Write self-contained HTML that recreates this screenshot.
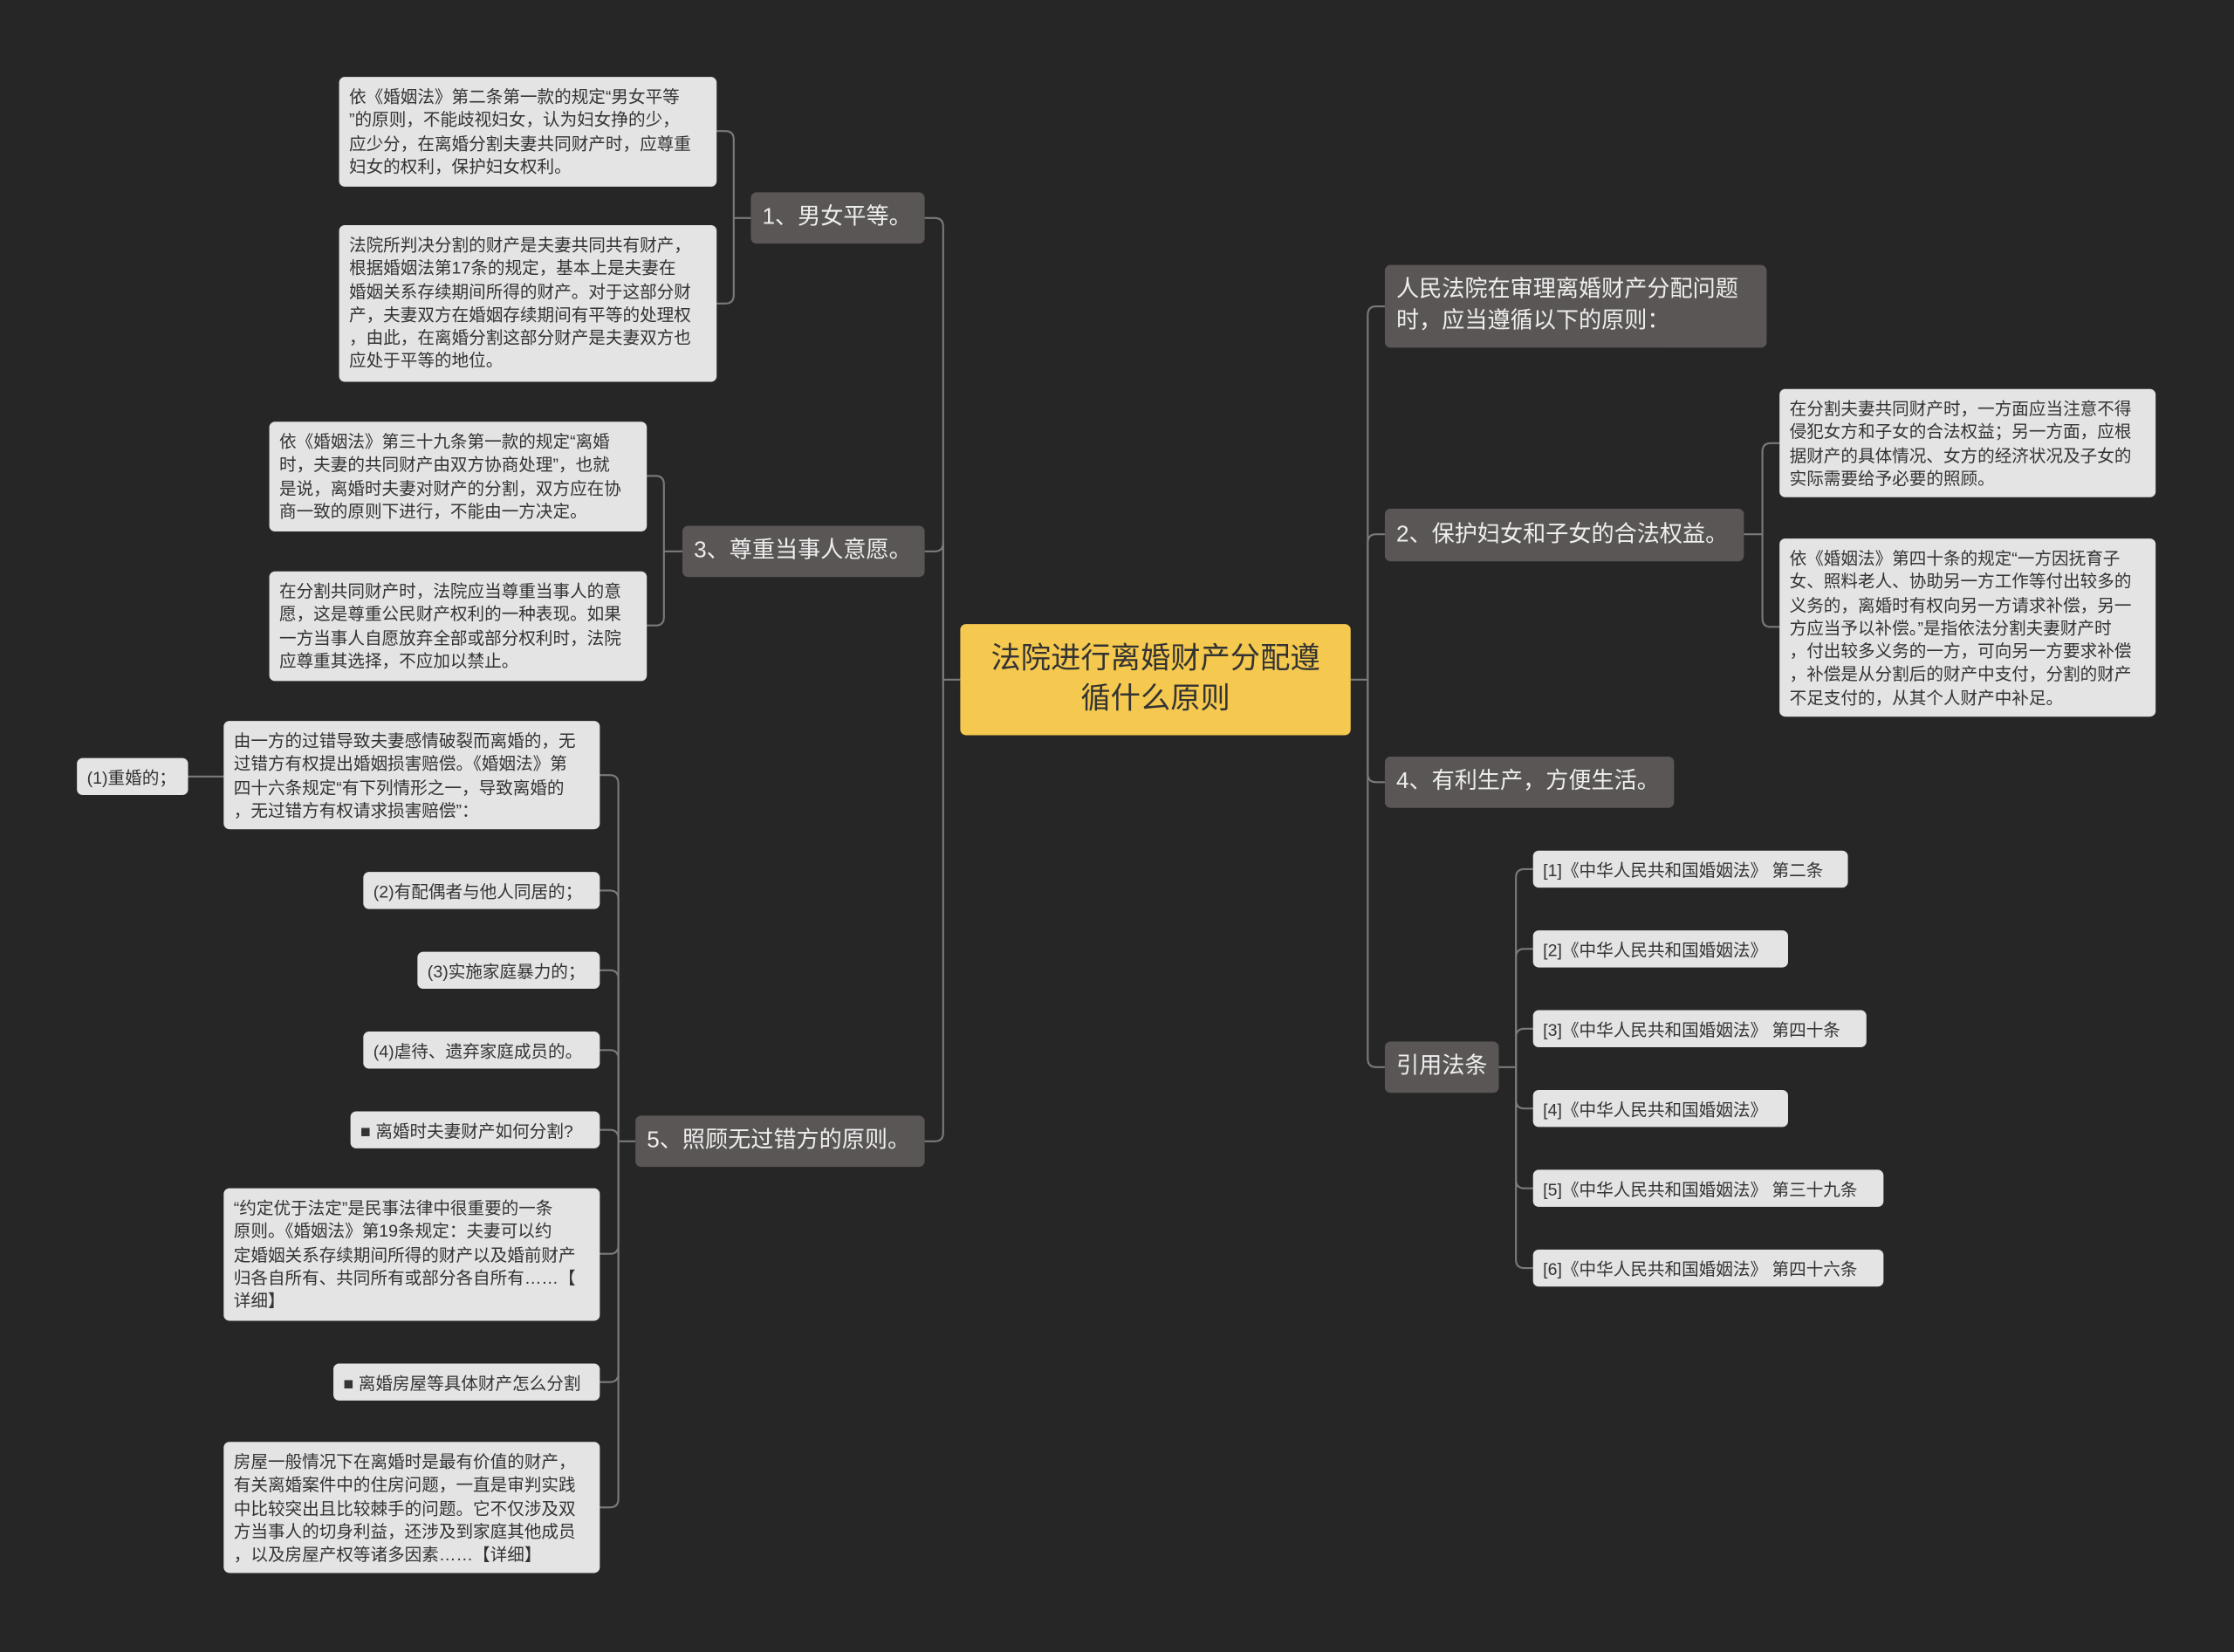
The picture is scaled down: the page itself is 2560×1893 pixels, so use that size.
<!DOCTYPE html>
<html><head><meta charset="utf-8">
<style>
html,body{margin:0;padding:0;background:#262626;overflow:hidden;width:2560px;height:1893px}
#w{position:absolute;left:0;top:0;width:1568px;height:1159px;transform:scale(1.632653);transform-origin:0 0;background:#262626;font-family:"Liberation Sans","Noto Sans CJK SC",sans-serif}
.n{position:absolute;box-sizing:border-box;border-radius:4px}
.c{background:#f5c94f;color:#333;font-size:21px;line-height:28px;text-align:center;display:flex;align-items:center;justify-content:center}
.m{background:#5a5655;color:#eee;font-size:16px;line-height:22px;padding:0 8px;display:flex;align-items:center}
.l{background:#e4e4e4;color:#333;font-size:12px;line-height:16.3px;padding:6px 7px;white-space:nowrap}
.s{background:#e4e4e4;color:#333;font-size:12px;display:flex;align-items:center;padding:0 7px;white-space:nowrap}
svg{position:absolute;left:0;top:0}
path{fill:none;stroke:#7a7a7a;stroke-width:1.3}
</style></head><body><div id="w">
<svg width="1568" height="1159">
<path d="M674 477H662V159Q662 153 656 153H649"/>
<path d="M662 477V381Q662 387 656 387H649"/>
<path d="M662 477V795Q662 801 656 801H649"/>
<path d="M527 153H515V98Q515 92 509 92H503"/>
<path d="M515 153V207Q515 213 509 213H503"/>
<path d="M479 387H466V340Q466 334 460 334H454"/>
<path d="M466 387V433Q466 439 460 439H454"/>
<path d="M446 801H434V550Q434 544 428 544H421"/>
<path d="M434 801V631Q434 625 428 625H421"/>
<path d="M434 801V687Q434 681 428 681H421"/>
<path d="M434 801V743Q434 737 428 737H421"/>
<path d="M434 801V799Q434 793 428 793H421"/>
<path d="M434 801V874Q434 880 428 880H421"/>
<path d="M434 801V964Q434 970 428 970H421"/>
<path d="M434 801V1052Q434 1058 428 1058H421"/>
<path d="M157 545H132"/>
<path d="M948 477H960V221Q960 215 966 215H972"/>
<path d="M960 477V381Q960 375 966 375H972"/>
<path d="M960 477V543Q960 549 966 549H972"/>
<path d="M960 477V743Q960 749 966 749H972"/>
<path d="M1224 375H1237V317Q1237 311 1243 311H1249"/>
<path d="M1237 375V434Q1237 440 1243 440H1249"/>
<path d="M1052 749H1064V616Q1064 610 1070 610H1076"/>
<path d="M1064 749V672Q1064 666 1070 666H1076"/>
<path d="M1064 749V728Q1064 722 1070 722H1076"/>
<path d="M1064 749V772Q1064 778 1070 778H1076"/>
<path d="M1064 749V828Q1064 834 1070 834H1076"/>
<path d="M1064 749V884Q1064 890 1070 890H1076"/>
</svg>

<div class="n c" style="left:674px;top:438px;width:274px;height:78px">法院进行离婚财产分配遵<br>循什么原则</div>

<div class="n m" style="left:527px;top:135px;width:122px;height:36px">1、男女平等。</div>
<div class="n m" style="left:479px;top:369px;width:170px;height:36px">3、尊重当事人意愿。</div>
<div class="n m" style="left:446px;top:783px;width:203px;height:36px">5、照顾无过错方的原则。</div>

<div class="n l" style="left:238px;top:54px;width:265px;height:77px">依《婚姻法》第二条第一款的规定“男女平等<br>”的原则，不能歧视妇女，认为妇女挣的少，<br>应少分，在离婚分割夫妻共同财产时，应尊重<br>妇女的权利，保护妇女权利。</div>
<div class="n l" style="left:238px;top:158px;width:265px;height:110px">法院所判决分割的财产是夫妻共同共有财产，<br>根据婚姻法第17条的规定，基本上是夫妻在<br>婚姻关系存续期间所得的财产。对于这部分财<br>产，夫妻双方在婚姻存续期间有平等的处理权<br>，由此，在离婚分割这部分财产是夫妻双方也<br>应处于平等的地位。</div>
<div class="n l" style="left:189px;top:296px;width:265px;height:77px">依《婚姻法》第三十九条第一款的规定“离婚<br>时，夫妻的共同财产由双方协商处理”，也就<br>是说，离婚时夫妻对财产的分割，双方应在协<br>商一致的原则下进行，不能由一方决定。</div>
<div class="n l" style="left:189px;top:401px;width:265px;height:77px">在分割共同财产时，法院应当尊重当事人的意<br>愿，这是尊重公民财产权利的一种表现。如果<br>一方当事人自愿放弃全部或部分权利时，法院<br>应尊重其选择，不应加以禁止。</div>

<div class="n l" style="left:157px;top:506px;width:264px;height:76px">由一方的过错导致夫妻感情破裂而离婚的，无<br>过错方有权提出婚姻损害赔偿。《婚姻法》第<br>四十六条规定“有下列情形之一，导致离婚的<br>，无过错方有权请求损害赔偿”：</div>
<div class="n s" style="left:54px;top:532px;width:78px;height:26px">(1)重婚的；</div>
<div class="n s" style="left:255px;top:612px;width:166px;height:26px">(2)有配偶者与他人同居的；</div>
<div class="n s" style="left:293px;top:668px;width:128px;height:26px">(3)实施家庭暴力的；</div>
<div class="n s" style="left:255px;top:724px;width:166px;height:26px">(4)虐待、遗弃家庭成员的。</div>
<div class="n s" style="left:246px;top:780px;width:175px;height:26px">■ 离婚时夫妻财产如何分割?</div>
<div class="n l" style="left:157px;top:834px;width:264px;height:93px">“约定优于法定”是民事法律中很重要的一条<br>原则。《婚姻法》第19条规定：夫妻可以约<br>定婚姻关系存续期间所得的财产以及婚前财产<br>归各自所有、共同所有或部分各自所有……【<br>详细】</div>
<div class="n s" style="left:234px;top:957px;width:187px;height:26px">■ 离婚房屋等具体财产怎么分割</div>
<div class="n l" style="left:157px;top:1012px;width:264px;height:92px">房屋一般情况下在离婚时是最有价值的财产，<br>有关离婚案件中的住房问题，一直是审判实践<br>中比较突出且比较棘手的问题。它不仅涉及双<br>方当事人的切身利益，还涉及到家庭其他成员<br>，以及房屋产权等诸多因素……【详细】</div>

<div class="n m" style="left:972px;top:186px;width:268px;height:58px">人民法院在审理离婚财产分配问题<br>时，应当遵循以下的原则：</div>
<div class="n m" style="left:972px;top:357px;width:252px;height:37px">2、保护妇女和子女的合法权益。</div>
<div class="n m" style="left:972px;top:531px;width:203px;height:36px">4、有利生产，方便生活。</div>
<div class="n m" style="left:972px;top:731px;width:80px;height:36px">引用法条</div>

<div class="n l" style="left:1249px;top:273px;width:264px;height:76px">在分割夫妻共同财产时，一方面应当注意不得<br>侵犯女方和子女的合法权益；另一方面，应根<br>据财产的具体情况、女方的经济状况及子女的<br>实际需要给予必要的照顾。</div>
<div class="n l" style="left:1249px;top:378px;width:264px;height:125px">依《婚姻法》第四十条的规定“一方因抚育子<br>女、照料老人、协助另一方工作等付出较多的<br>义务的，离婚时有权向另一方请求补偿，另一<br>方应当予以补偿。”是指依法分割夫妻财产时<br>，付出较多义务的一方，可向另一方要求补偿<br>，补偿是从分割后的财产中支付，分割的财产<br>不足支付的，从其个人财产中补足。</div>

<div class="n s" style="left:1076px;top:597px;width:221px;height:26px">[1]《中华人民共和国婚姻法》 第二条</div>
<div class="n s" style="left:1076px;top:653px;width:179px;height:26px">[2]《中华人民共和国婚姻法》</div>
<div class="n s" style="left:1076px;top:709px;width:234px;height:26px">[3]《中华人民共和国婚姻法》 第四十条</div>
<div class="n s" style="left:1076px;top:765px;width:179px;height:26px">[4]《中华人民共和国婚姻法》</div>
<div class="n s" style="left:1076px;top:821px;width:246px;height:26px">[5]《中华人民共和国婚姻法》 第三十九条</div>
<div class="n s" style="left:1076px;top:877px;width:246px;height:26px">[6]《中华人民共和国婚姻法》 第四十六条</div>
</div></body></html>
